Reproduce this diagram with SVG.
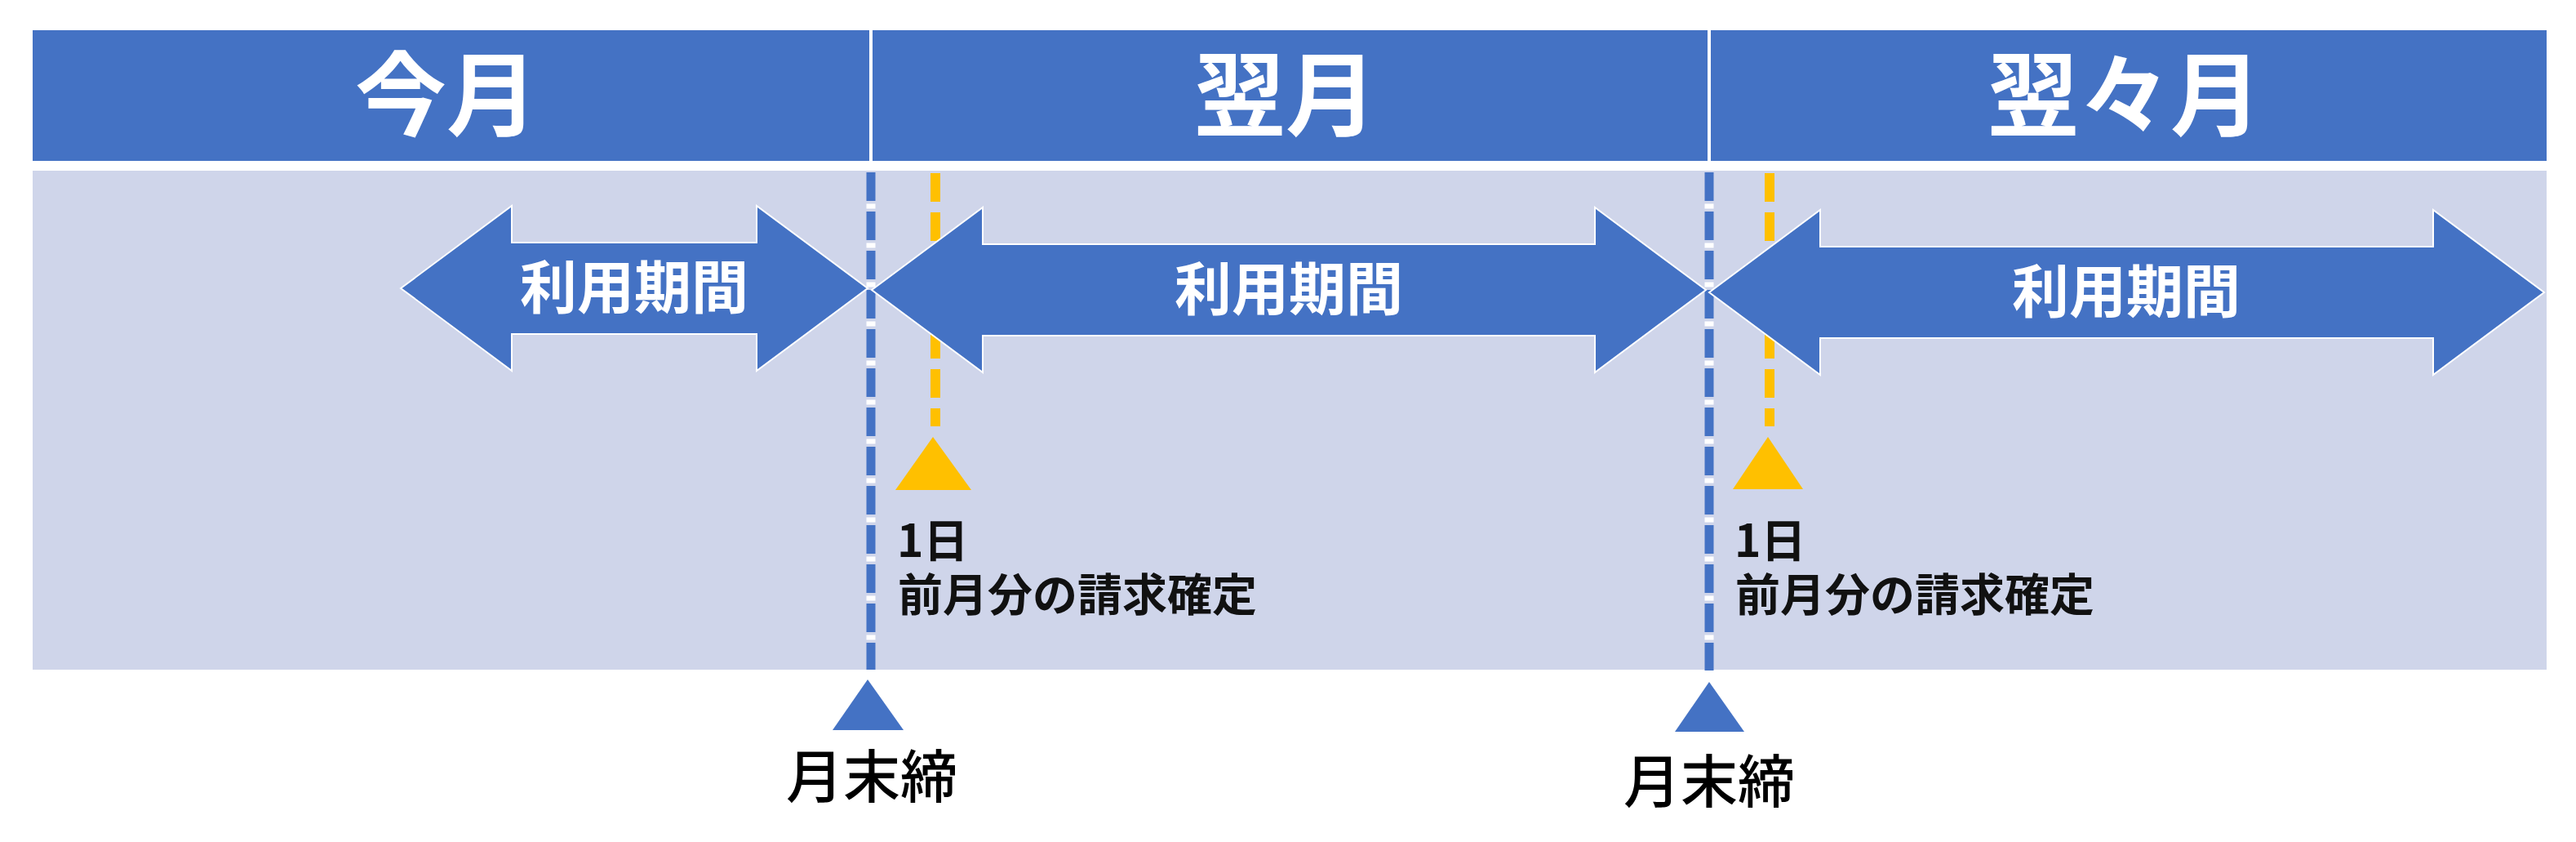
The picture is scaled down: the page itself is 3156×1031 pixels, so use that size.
<svg xmlns="http://www.w3.org/2000/svg" width="3156" height="1031" viewBox="0 0 3156 1031">
<style>
.hdr{fill:#4472C4}
.body{fill:#CFD5EA}
.ht{font-family:"Noto Sans CJK JP","Noto Sans CJK SC",sans-serif;font-weight:700;font-size:112px;fill:#fff;text-anchor:middle}
.at{font-family:"Noto Sans CJK JP","Noto Sans CJK SC",sans-serif;font-weight:700;font-size:70px;fill:#fff;text-anchor:middle}
.st{font-family:"Noto Sans CJK JP","Noto Sans CJK SC",sans-serif;font-weight:700;font-size:55px;fill:#111}
.bt{font-family:"Noto Sans CJK JP","Noto Sans CJK SC",sans-serif;font-weight:500;font-size:70px;fill:#000;text-anchor:middle}
.arrow{fill:#4472C4;stroke:#fff;stroke-width:2;stroke-linejoin:miter}
.bl{stroke:#4472C4;stroke-width:11;stroke-dasharray:35 13;fill:none}
.wl{stroke:#fff;stroke-width:11;stroke-dasharray:6 42;stroke-dashoffset:9.5;fill:none}
.ol{stroke:#FFC000;stroke-width:12;stroke-dasharray:35 13;fill:none}
.otri{fill:#FFC000}
.btri{fill:#4472C4}
</style>
<rect width="3156" height="1031" fill="#fff"/>
<g id="header">
<rect class="hdr" x="40" y="37" width="3080" height="160"/>
<line x1="1067" y1="37" x2="1067" y2="197" stroke="#fff" stroke-width="4"/>
<line x1="2094" y1="37" x2="2094" y2="197" stroke="#fff" stroke-width="4"/>
<text class="ht" x="547" y="158">今月</text>
<text class="ht" x="1575" y="158">翌月</text>
<text class="ht" x="2603" y="158">翌々月</text>
</g>
<g id="body">
<rect class="body" x="40" y="209" width="3080" height="611"/>
</g>
<g id="connectors">
<line class="wl" x1="1067" y1="211" x2="1067" y2="820"/>
<line class="bl" x1="1067" y1="211" x2="1067" y2="820"/>
<line class="wl" x1="2094" y1="211" x2="2094" y2="821"/>
<line class="bl" x1="2094" y1="211" x2="2094" y2="821"/>
<line class="ol" x1="1146" y1="212" x2="1146" y2="522"/>
<line class="ol" x1="2168" y1="212" x2="2168" y2="522"/>
</g>
<g id="period1">
<polygon class="arrow" points="491,353 627,252 627,297 927,297 927,252 1063,353 927,454 927,409 627,409 627,454"/>
<text class="at" x="777" y="378">利用期間</text>
</g>
<g id="period2">
<polygon class="arrow" points="1068,355 1204,254 1204,299 1954,299 1954,254 2090,355 1954,456 1954,411 1204,411 1204,456"/>
<text class="at" x="1579" y="380">利用期間</text>
</g>
<g id="period3">
<polygon class="arrow" points="2094,358 2230,257 2230,302 2981,302 2981,257 3117,358 2981,459 2981,414 2230,414 2230,459"/>
<text class="at" x="2605" y="383">利用期間</text>
</g>
<g id="billing1">
<polygon class="otri" points="1143,535 1190,600 1097,600"/>
<text class="st"><tspan x="1099" y="682">1日</tspan><tspan x="1100" y="748">前月分の請求確定</tspan></text>
</g>
<g id="billing2">
<polygon class="otri" points="2166,535 2209,599 2123,599"/>
<text class="st"><tspan x="2125" y="682">1日</tspan><tspan x="2126" y="748">前月分の請求確定</tspan></text>
</g>
<g id="close1">
<polygon class="btri" points="1063,832 1107,894 1020,894"/>
<text class="bt" x="1068" y="977">月末締</text>
</g>
<g id="close2">
<polygon class="btri" points="2094,835 2137,896 2052,896"/>
<text class="bt" x="2094" y="983">月末締</text>
</g>
</svg>
